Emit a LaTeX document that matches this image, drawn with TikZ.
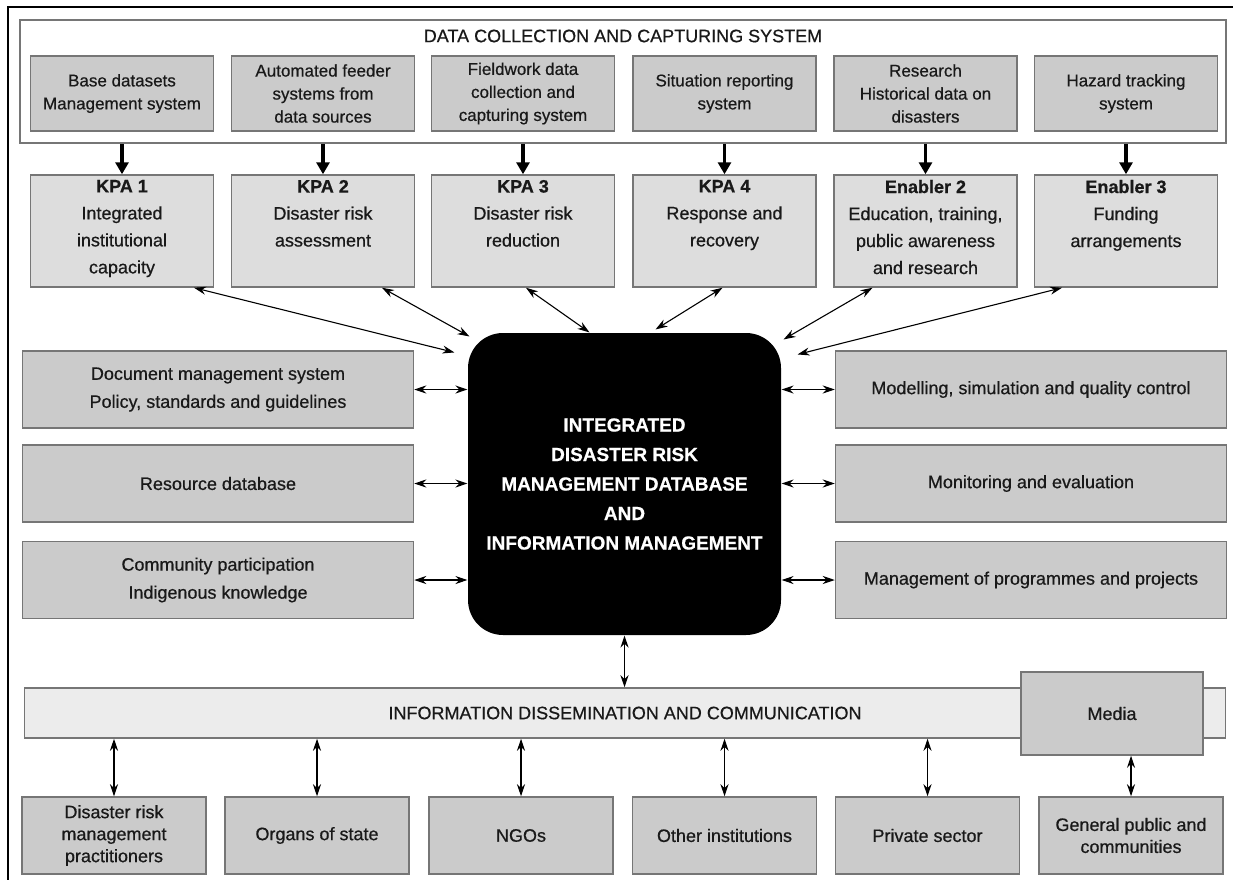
\documentclass[tikz,border=0pt]{standalone}
\usepackage{fontspec}
\setmainfont[FakeBold=0.6]{Liberation Sans}
\usetikzlibrary{arrows.meta,shapes}

\definecolor{boxgray}{HTML}{CBCBCB}
\definecolor{kpagray}{HTML}{DDDDDD}
\definecolor{bargray}{HTML}{ECECEC}
\definecolor{edgegray}{HTML}{767676}

\newcommand{\kpatext}[2]{\parbox[c][102pt][t]{178pt}{\centering\textbf{#1}\\#2}}

\begin{document}
\begin{tikzpicture}[x=1pt,y=-1pt,>={Stealth[length=12pt,width=8pt]},line width=1.1pt]
        \tikzstyle{every node}=[text=black!90, font=\fontsize{18}{28}\selectfont]
        \tikzstyle{framebox}=[rectangle, draw=edgegray, line width=1.5pt, inner sep=2pt, align=center]
        \tikzstyle{srcbox}=[framebox, fill=boxgray, minimum width=183pt, minimum height=75pt, font=\fontsize{17}{23}\selectfont]
        \tikzstyle{kpabox}=[framebox, fill=kpagray, inner sep=0pt, minimum width=183pt, minimum height=112pt, font=\fontsize{18}{27}\selectfont]
        \tikzstyle{sidebox}=[framebox, fill=boxgray, minimum width=391pt, minimum height=77pt]
        \tikzstyle{userbox}=[framebox, fill=boxgray, minimum width=184pt, minimum height=77pt, font=\fontsize{18}{22}\selectfont]
        \tikzstyle{core}=[rectangle, rounded corners=35pt, fill=black, text=white, align=center, minimum width=313pt, minimum height=302pt, font=\bfseries\fontsize{19}{29.5}\selectfont]
        \tikzstyle{feed}=[line width=3.5pt, -{Triangle[length=12pt,width=13pt]}]

        \useasboundingbox (0,0) rectangle (1233,880);
        \draw[line width=2.5pt] (1233,7) -- (8,7) -- (8,880);

        \node[framebox, fill=white, minimum width=1206pt, minimum height=123pt] (dcs) at (623,81.5) {};
        \node (dcstitle) at (623,36) {DATA COLLECTION AND CAPTURING SYSTEM};
        \node[srcbox] (src1) at (122,93.5)   {Base datasets\\Management system};
        \node[srcbox] (src2) at (323,93.5)   {Automated feeder\\systems from\\data sources};
        \node[srcbox] (src3) at (523,93.5)   {Fieldwork data\\collection and\\capturing system};
        \node[srcbox] (src4) at (724.5,93.5) {Situation reporting\\system};
        \node[srcbox] (src5) at (925.5,93.5) {Research\\Historical data on\\disasters};
        \node[srcbox] (src6) at (1126,93.5)  {Hazard tracking\\system};

        \node[kpabox] (kpa1) at (122,231)   {\kpatext{KPA 1}{Integrated\\institutional\\capacity}};
        \node[kpabox] (kpa2) at (323,231)   {\kpatext{KPA 2}{Disaster risk\\assessment}};
        \node[kpabox] (kpa3) at (523,231)   {\kpatext{KPA 3}{Disaster risk\\reduction}};
        \node[kpabox] (kpa4) at (724.5,231) {\kpatext{KPA 4}{Response and\\recovery}};
        \node[kpabox] (en2)  at (925.5,231) {\kpatext{Enabler 2}{Education, training,\\public awareness\\and research}};
        \node[kpabox] (en3)  at (1126,231)  {\kpatext{Enabler 3}{Funding\\arrangements}};

        \node[core] (core) at (624.5,484) {INTEGRATED\\DISASTER RISK\\MANAGEMENT DATABASE\\AND\\INFORMATION MANAGEMENT};

        \node[sidebox] (doc)   at (218,389.5)  {Document management system\\Policy, standards and guidelines};
        \node[sidebox] (res)   at (218,483.5)  {Resource database};
        \node[sidebox] (comm)  at (218,580)    {Community participation\\Indigenous knowledge};
        \node[sidebox] (model) at (1031,389.5) {Modelling, simulation and quality control};
        \node[sidebox] (mon)   at (1031,483.5) {Monitoring and evaluation};
        \node[sidebox] (prog)  at (1031,580)   {Management of programmes and projects};

        \node[framebox, fill=bargray, minimum width=1201pt, minimum height=50pt] (info) at (625,713) {INFORMATION DISSEMINATION AND COMMUNICATION};
        \node[framebox, fill=boxgray, minimum width=182pt, minimum height=83pt] (media) at (1112,713.5) {Media};

        \node[userbox] (drm)    at (114,835.5)   {Disaster risk\\management\\practitioners};
        \node[userbox] (organs) at (317,835.5)   {Organs of state};
        \node[userbox] (ngo)    at (521,835.5)   {NGOs};
        \node[userbox] (other)  at (724.5,835.5) {Other institutions};
        \node[userbox] (priv)   at (927.5,835.5) {Private sector};
        \node[userbox] (pub)    at (1131,835.5)  {General public and\\communities};

        \draw[feed] (src1 |- dcs.south) -- (kpa1);
        \draw[feed] (src2 |- dcs.south) -- (kpa2);
        \draw[feed] (src3 |- dcs.south) -- (kpa3);
        \draw[feed] (src4 |- dcs.south) -- (kpa4);
        \draw[feed] (src5 |- dcs.south) -- (en2);
        \draw[feed] (src6 |- dcs.south) -- (en3);

        \draw[<->] ([xshift=72pt]kpa1.south) -- ([xshift=-13pt,yshift=-20pt]core.north west);
        \draw[<->] ([xshift=59pt]kpa2.south) -- ([xshift=2pt,yshift=-4pt]core.north west);
        \draw[<->] ([xshift=3pt]kpa3.south)  -- ([xshift=-35pt]core.north);
        \draw[<->] ([xshift=-2pt]kpa4.south) -- ([xshift=31pt,yshift=3pt]core.north);
        \draw[<->] ([xshift=-53pt]en2.south) -- ([xshift=2pt,yshift=-7pt]core.north east);
        \draw[<->] ([xshift=-64pt]en3.south) -- ([xshift=16pt,yshift=-22pt]core.north east);

        \draw[<->] (doc)  -- (doc -| core.west);
        \draw[<->] (res)  -- (res -| core.west);
        \draw[<->] (comm) -- (comm -| core.west);
        \draw[<->] (model -| core.east) -- (model);
        \draw[<->] (mon -| core.east)   -- (mon);
        \draw[<->] (prog -| core.east)  -- (prog);

        \draw[<->] (core) -- (core |- info.north);
        \draw[<->] (drm |- info.south)    -- (drm);
        \draw[<->] (organs |- info.south) -- (organs);
        \draw[<->] (ngo |- info.south)    -- (ngo);
        \draw[<->] (other |- info.south)  -- (other);
        \draw[<->] (priv |- info.south)   -- (priv);
        \draw[<->] (pub |- media.south)   -- (pub);
      \end{tikzpicture}
\end{document}
